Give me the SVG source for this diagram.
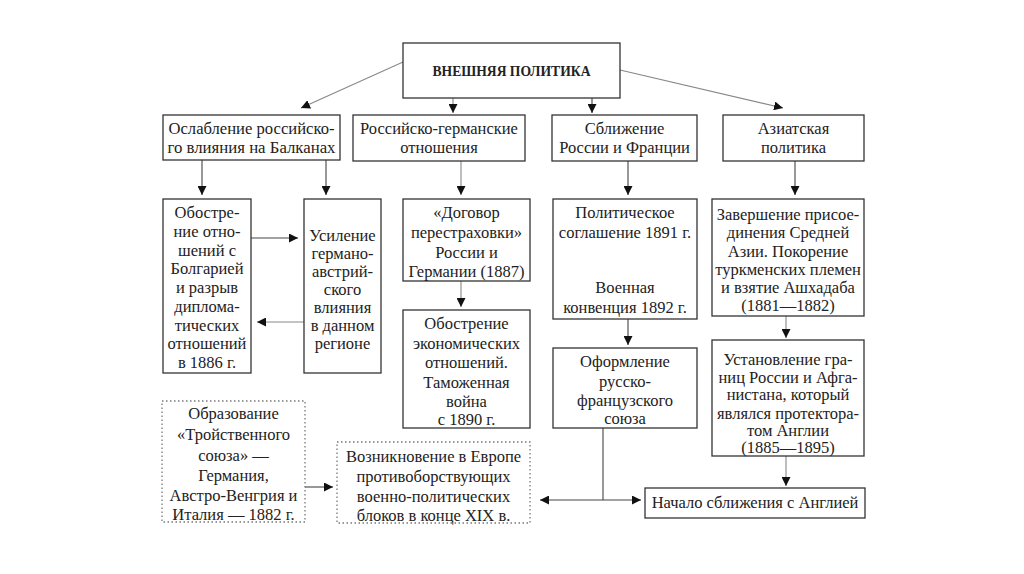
<svg xmlns="http://www.w3.org/2000/svg" width="1024" height="574" viewBox="0 0 1024 574" font-family="'Liberation Serif', 'Times New Roman', serif">
<defs>
<marker id="ah" markerUnits="userSpaceOnUse" markerWidth="10" markerHeight="9" refX="9" refY="4.5" orient="auto">
<path d="M0,0 L9,4.5 L0,9 z" fill="#111"/>
</marker>
</defs>
<style>
.box{fill:#fff;stroke:#333;stroke-width:1.3}
.dot{fill:#fff;stroke:#777;stroke-width:1.3;stroke-dasharray:1.5 2.5}
text{font-family:'Liberation Serif','Times New Roman',serif;font-size:16.5px;fill:#222;text-anchor:middle}
.title{font-weight:bold;font-size:14px}
.c{fill:none;stroke:#444;stroke-width:1.1}
.g{fill:none;stroke:#888;stroke-width:1.1}
</style>
<rect width="1024" height="574" fill="#fff"/>
<g id="connectors">
<line class="g" x1="403" y1="62" x2="301" y2="108" marker-end="url(#ah)"/>
<line class="g" x1="620" y1="70" x2="783" y2="108" marker-end="url(#ah)"/>
<line class="g" x1="453" y1="98" x2="453" y2="113" marker-end="url(#ah)"/>
<line class="c" x1="592" y1="98" x2="592" y2="113" marker-end="url(#ah)"/>
<line class="c" x1="202" y1="160" x2="202" y2="195" marker-end="url(#ah)"/>
<line class="c" x1="326" y1="160" x2="326" y2="195" marker-end="url(#ah)"/>
<line class="c" x1="251" y1="238" x2="298" y2="238" marker-end="url(#ah)"/>
<line class="g" x1="304" y1="322" x2="257" y2="322" marker-end="url(#ah)"/>
<line class="g" x1="461" y1="161" x2="461" y2="195" marker-end="url(#ah)"/>
<line class="g" x1="461" y1="281" x2="461" y2="307" marker-end="url(#ah)"/>
<line class="c" x1="628" y1="161" x2="628" y2="195" marker-end="url(#ah)"/>
<line class="c" x1="628" y1="242" x2="628" y2="276"/>
<line class="c" x1="628" y1="319" x2="628" y2="345" marker-end="url(#ah)"/>
<line class="c" x1="795" y1="161" x2="795" y2="195" marker-end="url(#ah)"/>
<line class="g" x1="786" y1="316" x2="786" y2="338" marker-end="url(#ah)"/>
<line class="g" x1="786" y1="456" x2="786" y2="486" marker-end="url(#ah)"/>
<line class="c" x1="603" y1="428" x2="603" y2="500"/>
<line class="c" x1="603" y1="500" x2="540" y2="500" marker-end="url(#ah)"/>
<line class="c" x1="603" y1="500" x2="641" y2="500" marker-end="url(#ah)"/>
<line class="c" x1="305" y1="487" x2="333" y2="487" marker-end="url(#ah)"/>
</g>
<g id="top">
<rect class="box" x="403" y="43" width="217" height="55"/>
<text class="title" x="511.5" y="76" textLength="158" lengthAdjust="spacingAndGlyphs">ВНЕШНЯЯ ПОЛИТИКА</text>
</g>
<g id="balkans">
<rect class="box" x="163" y="115" width="177" height="45"/>
<text x="251.5" y="134" textLength="166" lengthAdjust="spacingAndGlyphs">Ослабление российско-</text>
<text x="251.5" y="153" textLength="168" lengthAdjust="spacingAndGlyphs">го влияния на Балканах</text>
</g>
<g id="rus-ger">
<rect class="box" x="353" y="115" width="172" height="46"/>
<text x="439" y="134">Российско-германские</text>
<text x="439" y="153">отношения</text>
</g>
<g id="rus-fr">
<rect class="box" x="552" y="115" width="145" height="46"/>
<text x="624.5" y="134">Сближение</text>
<text x="624.5" y="153">России и Франции</text>
</g>
<g id="asia">
<rect class="box" x="723" y="115" width="141" height="46"/>
<text x="793.5" y="134">Азиатская</text>
<text x="793.5" y="153">политика</text>
</g>
<g id="bulgaria">
<rect class="box" x="163" y="199" width="88" height="174"/>
<text x="207" y="218">Обостре-</text>
<text x="207" y="236.75">ние отно-</text>
<text x="207" y="255.5">шений с</text>
<text x="207" y="274.25">Болгарией</text>
<text x="207" y="293">и разрыв</text>
<text x="207" y="311.75">диплома-</text>
<text x="207" y="330.5">тических</text>
<text x="207" y="349.25">отношений</text>
<text x="207" y="368">в 1886 г.</text>
</g>
<g id="ger-aus">
<rect class="box" x="304" y="199" width="77" height="174"/>
<text x="342.5" y="241">Усиление</text>
<text x="342.5" y="259">германо-</text>
<text x="342.5" y="277">австрий-</text>
<text x="342.5" y="295">ского</text>
<text x="342.5" y="313">влияния</text>
<text x="342.5" y="331">в данном</text>
<text x="342.5" y="349">регионе</text>
</g>
<g id="reinsurance">
<rect class="box" x="403" y="199" width="127" height="82"/>
<text x="466.5" y="218">«Договор</text>
<text x="466.5" y="238">перестраховки»</text>
<text x="466.5" y="258">России и</text>
<text x="466.5" y="277">Германии (1887)</text>
</g>
<g id="customs">
<rect class="box" x="403" y="310" width="127" height="118"/>
<text x="466.5" y="329">Обострение</text>
<text x="466.5" y="349">экономических</text>
<text x="466.5" y="368">отношений.</text>
<text x="466.5" y="388">Таможенная</text>
<text x="466.5" y="407">война</text>
<text x="466.5" y="425">с 1890 г.</text>
</g>
<g id="agreement">
<rect class="box" x="553" y="199" width="144" height="120"/>
<text x="625" y="218">Политическое</text>
<text x="625" y="238">соглашение 1891 г.</text>
<text x="625" y="293">Военная</text>
<text x="625" y="313">конвенция 1892 г.</text>
</g>
<g id="union">
<rect class="box" x="553" y="348" width="144" height="80"/>
<text x="625" y="367">Оформление</text>
<text x="625" y="387">русско-</text>
<text x="625" y="406">французского</text>
<text x="625" y="424">союза</text>
</g>
<g id="central-asia">
<rect class="box" x="712" y="199" width="152" height="117"/>
<text x="788" y="220">Завершение присое-</text>
<text x="788" y="238">динения Средней</text>
<text x="788" y="257">Азии. Покорение</text>
<text x="788" y="275">туркменских племен</text>
<text x="788" y="293">и взятие Ашхадаба</text>
<text x="788" y="311">(1881—1882)</text>
</g>
<g id="afghan">
<rect class="box" x="712" y="340" width="152" height="116"/>
<text x="788" y="365">Установление гра-</text>
<text x="788" y="383">ниц России и Афга-</text>
<text x="788" y="400">нистана, который</text>
<text x="788" y="419">являлся протектора-</text>
<text x="788" y="436">том Англии</text>
<text x="788" y="453">(1885—1895)</text>
</g>
<g id="england">
<rect class="box" x="645" y="488" width="220" height="30"/>
<text x="755" y="508">Начало сближения с Англией</text>
</g>
<g id="triple">
<rect class="dot" x="162" y="401" width="143" height="121"/>
<text x="233.5" y="419">Образование</text>
<text x="233.5" y="440">«Тройственного</text>
<text x="233.5" y="461">союза» —</text>
<text x="233.5" y="481">Германия,</text>
<text x="233.5" y="501">Австро-Венгрия и</text>
<text x="233.5" y="520">Италия — 1882 г.</text>
</g>
<g id="blocs">
<rect class="dot" x="337" y="442" width="193" height="81"/>
<text x="433.5" y="462">Возникновение в Европе</text>
<text x="433.5" y="482">противоборствующих</text>
<text x="433.5" y="502">военно-политических</text>
<text x="433.5" y="521">блоков в конце XIX в.</text>
</g>
</svg>
